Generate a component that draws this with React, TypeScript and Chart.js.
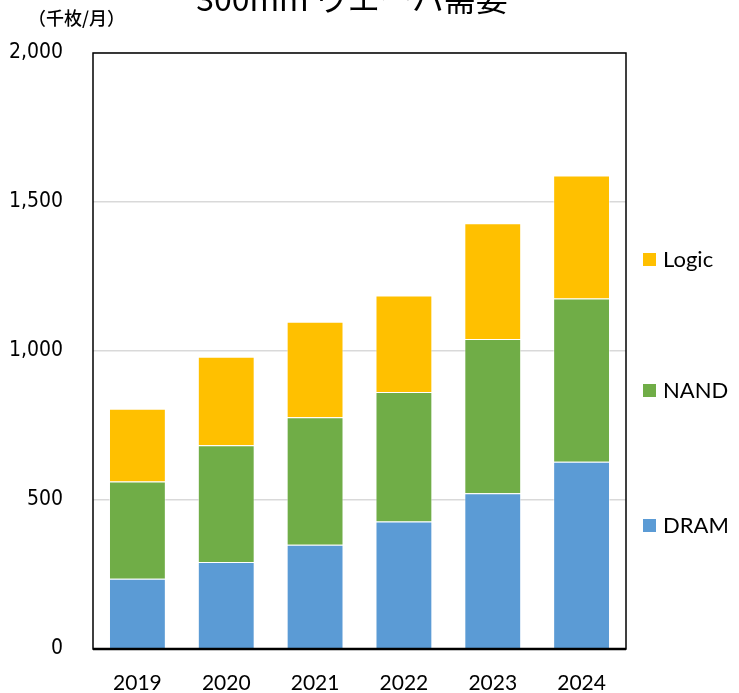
import React, { useEffect, useRef } from "react";
import { Chart, registerables } from "chart.js";

Chart.register(...registerables);

const categories = ["2019", "2020", "2021", "2022", "2023", "2024"];
const dramValues = [236, 292, 350, 428, 523, 628];
const nandValues = [326, 392, 428, 434, 517, 548];
const logicValues = [244, 297, 320, 324, 389, 413];
const yTickValues = [0, 500, 1000, 1500, 2000];
const titleText = "300mm ウエーハ需要";
const unitText = "（千枚/月）";

const legendPlugin = {
  id: "customDeco",
  afterDraw(chart: any) {
    const ctx = chart.ctx;
    const a = chart.chartArea;
    ctx.save();
    ctx.strokeStyle = "#000";
    ctx.lineWidth = 1.5;
    ctx.strokeRect(a.left, a.top, a.right - a.left, a.bottom - a.top);
    ctx.lineWidth = 2.5;
    ctx.beginPath();
    ctx.moveTo(a.left, a.bottom);
    ctx.lineTo(a.right, a.bottom);
    ctx.stroke();
    ctx.fillStyle = "#000";
    ctx.font = "32px 'Noto Sans CJK JP', 'DejaVu Sans Condensed', sans-serif";
    ctx.textAlign = "center";
    ctx.textBaseline = "alphabetic";
    ctx.fillText(titleText, 352, 11);
    ctx.font = "500 18px 'Noto Sans CJK JP', sans-serif";
    ctx.textAlign = "left";
    ctx.textBaseline = "middle";
    ctx.fillText(unitText, 28, 18);
    const legendY = [526, 391, 260];
    chart.data.datasets.forEach((ds: any, i: number) => {
      const y = legendY[i];
      ctx.fillStyle = ds.backgroundColor;
      ctx.fillRect(643, y - 7, 13, 13);
      ctx.fillStyle = "#000";
      ctx.font = "22px Lato, 'Open Sans', sans-serif";
      ctx.textAlign = "left";
      ctx.textBaseline = "middle";
      ctx.fillText(ds.label, 663, y);
    });
    ctx.restore();
  },
};

export default function App() {
  const ref = useRef<HTMLCanvasElement>(null);
  useEffect(() => {
    document.body.style.margin = "0";
    const chart = new Chart(ref.current!, {
      type: "bar",
      data: {
        labels: categories,
        datasets: [
          { label: "DRAM", data: dramValues, backgroundColor: "#5B9BD5", borderColor: "rgba(255,255,255,0.5)", borderWidth: 1 },
          { label: "NAND", data: nandValues, backgroundColor: "#70AD47", borderColor: "rgba(255,255,255,0.5)", borderWidth: 1 },
          { label: "Logic", data: logicValues, backgroundColor: "#FFC000", borderColor: "rgba(255,255,255,0.5)", borderWidth: 1 },
        ],
      },
      options: {
        responsive: false,
        animation: false,
        layout: { padding: { left: 0, right: 113, top: 53, bottom: 0 } },
        plugins: { legend: { display: false }, tooltip: { enabled: false } },
        datasets: { bar: { categoryPercentage: 1, barPercentage: 0.64 } },
        scales: {
          x: {
            stacked: true,
            grid: { display: false, drawTicks: false },
            border: { display: false },
            ticks: {
              color: "#000",
              padding: 22,
              font: { family: "Lato, 'Open Sans', sans-serif", size: 21 },
            },
            afterFit(s: any) { s.height = 44; },
          },
          y: {
            stacked: true,
            min: 0,
            max: 2000,
            afterBuildTicks(s: any) { s.ticks = yTickValues.map((v) => ({ value: v })); },
            grid: { color: "#d9d9d9", lineWidth: 1.5, drawTicks: false },
            border: { display: false },
            ticks: {
              color: "#000",
              padding: 30,
              font: { family: "'Liberation Sans Narrow', 'DejaVu Sans Condensed', sans-serif", size: 21 },
              callback: (v: any) => Number(v).toLocaleString("en-US"),
            },
            afterFit(s: any) { s.width = 93; },
          },
        },
      },
      plugins: [legendPlugin],
    });
    return () => chart.destroy();
  }, []);
  return <canvas ref={ref} width={739} height={693} style={{ display: "block" }} />;
}
